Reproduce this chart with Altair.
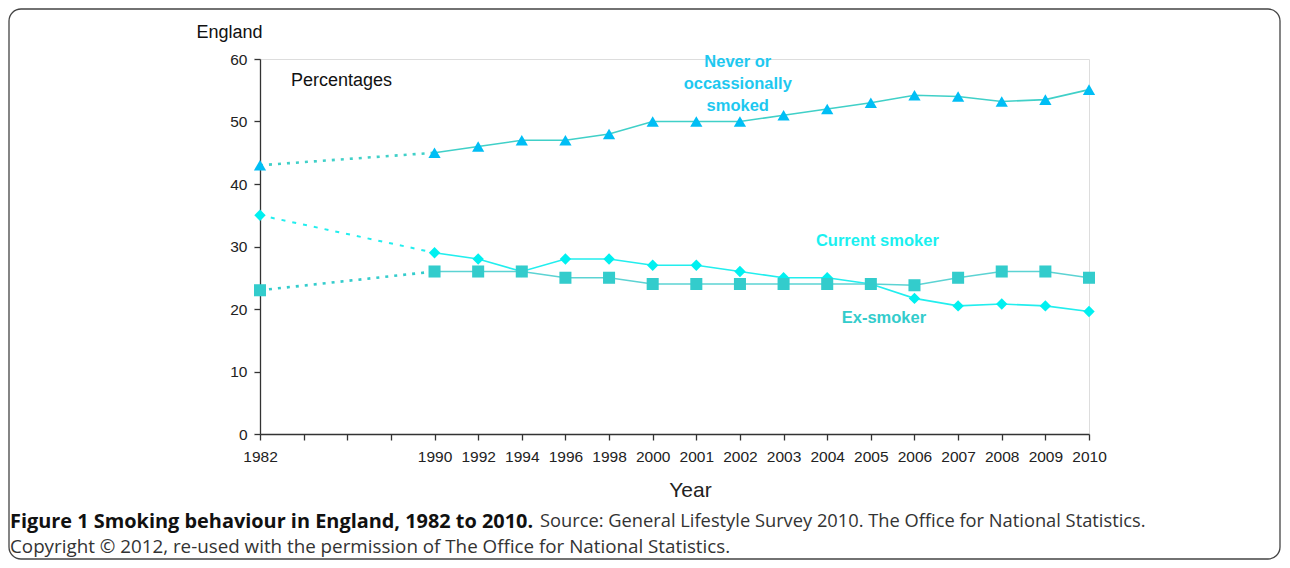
import altair as alt
import pandas as pd

# ---- data ----
x_labels = ["1982", "", "", "", "1990", "1992", "1994", "1996", "1998", "2000",
            "2001", "2002", "2003", "2004", "2005", "2006", "2007", "2008", "2009", "2010"]
years = ["1982", "1990", "1992", "1994", "1996", "1998", "2000", "2001", "2002",
         "2003", "2004", "2005", "2006", "2007", "2008", "2009", "2010"]
never = [43, 45, 46, 47, 47, 48, 50, 50, 50, 51, 52, 53, 54.2, 54.0, 53.2, 53.5, 55.1]
current = [35, 29, 28, 26, 28, 28, 27, 27, 26, 25, 25, 24, 21.7, 20.5, 20.8, 20.5, 19.6]
ex = [23, 26, 26, 26, 25, 25, 24, 24, 24, 24, 24, 24, 23.8, 25, 26, 26, 25]

series_names = ["Never", "Current", "Ex"]
line_colors = ["#40D0C8", "#22EEEE", "#5CD3D3"]
dot_colors = ["#40D0C8", "#22EEEE", "#33CCCC"]
point_colors = ["#00BEF5", "#00F0F0", "#33CCCC"]
text_colors = ["#1EC8F0", "#1AF0F0", "#33CCCC"]
shapes = ["triangle-up", "diamond", "square"]
sizes = [150, 130, 145]

ann_text = [["Never or", "occassionally", "smoked"], ["Current smoker"], ["Ex-smoker"]]
ann_pos = [10.95, 14.15, 14.3]
ann_val = [59.5, 30.9, 18.6]

W, H = 829, 375
PL, PT, PR, PB = 252, 51, 193, 126

label_expr = "[" + ",".join("'" + s + "'" for s in x_labels) + "][datum.value]"

xenc = alt.X("pos:Q", scale=alt.Scale(domain=[0, 19], nice=False, zero=False),
             axis=alt.Axis(values=list(range(20)), labelExpr=label_expr, title="Year",
                           grid=False, labelFontSize=15.5, labelColor="#222",
                           labelFont="Liberation Sans", labelPadding=9,
                           labelOverlap=False, labelFlush=False,
                           tickSize=6, tickColor="#333", domainColor="#333",
                           domainWidth=1.3, tickWidth=1.3,
                           titleFontSize=21, titleFontWeight="normal", titleFont="Liberation Sans",
                           titleColor="#222", titleX=430, titleY=56, titleBaseline="middle"))
yenc = alt.Y("value:Q", scale=alt.Scale(domain=[0, 60], nice=False),
             axis=alt.Axis(values=[0, 10, 20, 30, 40, 50, 60], title="England", grid=False,
                           labelFontSize=15.5, labelColor="#222", labelFont="Liberation Sans",
                           labelPadding=7, tickSize=6, tickColor="#333", domainColor="#333",
                           domainWidth=1.3, tickWidth=1.3, labelOverlap=False,
                           titleAngle=0, titleAlign="left", titleBaseline="middle",
                           titleX=-64, titleY=-27, titleFontSize=18, titleFontWeight="normal",
                           titleFont="Liberation Sans", titleColor="#111"))

layers = []
frame = alt.Chart(pd.DataFrame({"f": [0]})).mark_rect(
    fillOpacity=0, stroke="#444", strokeWidth=1.3, cornerRadius=12).encode(
    x=alt.value(-251), x2=alt.value(W + PR - 2), y=alt.value(-50), y2=alt.value(H + PB - 1))
layers.append(frame)

for i, (name, vals) in enumerate(zip(series_names, [never, current, ex])):
    d = pd.DataFrame({"pos": [x_labels.index(y) for y in years], "value": vals})
    dotted = d[d["pos"] <= 4]
    solid = d[d["pos"] >= 4]
    layers.append(alt.Chart(dotted).mark_line(
        strokeDash=[3, 6] if i != 1 else [4, 7], strokeWidth=2.6 if i != 1 else 2.0,
        color=dot_colors[i]).encode(x=xenc, y=yenc))
    layers.append(alt.Chart(solid).mark_line(strokeWidth=1.6, color=line_colors[i]).encode(x=xenc, y=yenc))
    layers.append(alt.Chart(d).mark_point(filled=True, opacity=1, shape=shapes[i], size=sizes[i],
                                          color=point_colors[i]).encode(x=xenc, y=yenc))
    a = pd.DataFrame({"text": [ann_text[i]], "pos": [ann_pos[i]], "value": [ann_val[i]]})
    layers.append(alt.Chart(a).mark_text(fontWeight="bold", fontSize=16.5, font="Liberation Sans",
                                         align="center", baseline="middle", lineHeight=22,
                                         color=text_colors[i]).encode(x=xenc, y=yenc, text="text"))

pct = alt.Chart(pd.DataFrame({"t": ["Percentages"]})).mark_text(
    align="left", baseline="middle", fontSize=18, font="Liberation Sans", color="#111").encode(
    x=alt.value(31), y=alt.value(22), text="t:N")

cap_bold = alt.Chart(pd.DataFrame({"t": ["Figure 1 Smoking behaviour in England, 1982 to 2010."]})).mark_text(
    align="left", baseline="middle", fontSize=19.9, font="Open Sans", fontWeight="bold", color="#111").encode(
    x=alt.value(-250), y=alt.value(463), text="t:N")
cap_reg = alt.Chart(pd.DataFrame({"t": ["Source: General Lifestyle Survey 2010. The Office for National Statistics."]})).mark_text(
    align="left", baseline="middle", fontSize=18.3, font="Open Sans", color="#333").encode(
    x=alt.value(280), y=alt.value(463), text="t:N")
cap_2 = alt.Chart(pd.DataFrame({"t": ["Copyright © 2012, re-used with the permission of The Office for National Statistics."]})).mark_text(
    align="left", baseline="middle", fontSize=18.8, font="Open Sans", color="#333").encode(
    x=alt.value(-250), y=alt.value(488), text="t:N")

layers += [pct, cap_bold, cap_reg, cap_2]

chart = alt.layer(*layers).properties(
    width=W, height=H,
    autosize=alt.AutoSizeParams(type="none"),
    padding={"left": PL, "top": PT, "right": PR, "bottom": PB},
).configure_view(stroke=None).configure(background="white")

chart.save("out.html", embed_options={"renderer": "svg", "actions": False})
